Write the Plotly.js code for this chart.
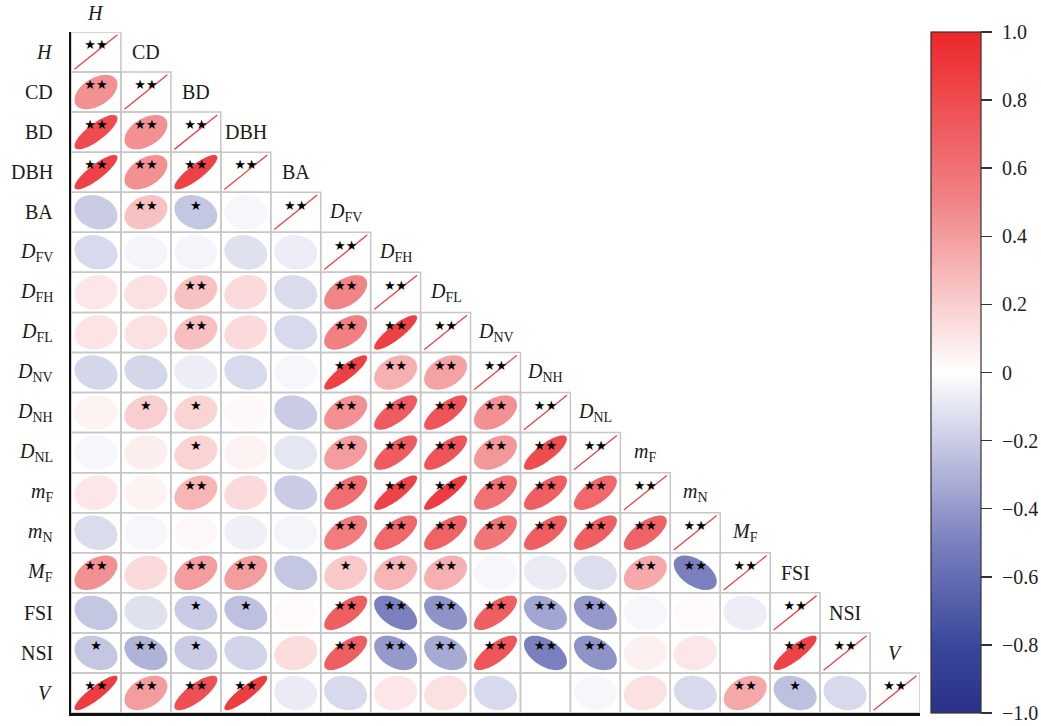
<!DOCTYPE html>
<html>
<head>
<meta charset="utf-8">
<script src="https://cdn.plot.ly/plotly-3.0.1.min.js"></script>
<style>html,body{margin:0;padding:0;background:#fff;}#chart{width:1041px;height:726px;}</style>
</head>
<body>
<div id="chart"></div>
<script>
// ---- data ----
const vars = ['H','CD','BD','DBH','BA','DFV','DFH','DFL','DNV','DNH','DNL','mF','mN','MF','FSI','NSI','V'];
const varLabels = ['<i>H</i>','CD','BD','DBH','BA','<i>D</i><sub>FV</sub>','<i>D</i><sub>FH</sub>','<i>D</i><sub>FL</sub>',
  '<i>D</i><sub>NV</sub>','<i>D</i><sub>NH</sub>','<i>D</i><sub>NL</sub>','<i>m</i><sub>F</sub>','<i>m</i><sub>N</sub>',
  '<i>M</i><sub>F</sub>','FSI','NSI','<i>V</i>'];

// lower-triangle correlations (row variable vs. earlier column variables)
const r_H   = [];
const r_CD  = [0.45];
const r_BD  = [0.80, 0.45];
const r_DBH = [0.85, 0.45, 0.85];
const r_BA  = [-0.20, 0.25, -0.22, -0.03];
const r_DFV = [-0.15, -0.04, -0.04, -0.12, -0.07];
const r_DFH = [0.10, 0.12, 0.25, 0.15, -0.14, 0.50];
const r_DFL = [0.11, 0.12, 0.26, 0.15, -0.15, 0.52, 0.86];
const r_DNV = [-0.16, -0.16, -0.07, -0.15, -0.03, 0.86, 0.32, 0.38];
const r_DNH = [0.05, 0.20, 0.18, 0.03, -0.20, 0.45, 0.72, 0.75, 0.45];
const r_DNL = [-0.03, 0.07, 0.18, 0.05, -0.10, 0.40, 0.72, 0.75, 0.42, 0.80];
const r_mF  = [0.10, 0.05, 0.30, 0.15, -0.20, 0.62, 0.85, 0.88, 0.60, 0.70, 0.65];
const r_mN  = [-0.14, -0.03, 0.03, -0.06, -0.04, 0.55, 0.65, 0.68, 0.58, 0.70, 0.70, 0.68];
const r_MF  = [0.45, 0.15, 0.40, 0.40, -0.22, 0.22, 0.30, 0.32, -0.03, -0.08, -0.13, 0.35, -0.50];
const r_FSI = [-0.22, -0.12, -0.20, -0.25, 0.02, 0.70, -0.50, -0.42, 0.70, -0.35, -0.40, -0.03, 0.02, -0.07];
const r_NSI = [-0.22, -0.30, -0.20, -0.17, 0.14, 0.70, -0.40, -0.33, 0.75, -0.50, -0.42, 0.06, 0.10, 0.0, 0.85];
const r_V   = [0.88, 0.40, 0.78, 0.88, -0.08, -0.15, 0.10, 0.12, -0.15, 0.0, -0.03, 0.12, -0.15, 0.35, -0.25, -0.15];

// significance marks
const s_H   = [];
const s_CD  = ['**'];
const s_BD  = ['**','**'];
const s_DBH = ['**','**','**'];
const s_BA  = ['','**','*',''];
const s_DFV = ['','','','',''];
const s_DFH = ['','','**','','','**'];
const s_DFL = ['','','**','','','**','**'];
const s_DNV = ['','','','','','**','**','**'];
const s_DNH = ['','*','*','','','**','**','**','**'];
const s_DNL = ['','','*','','','**','**','**','**','**'];
const s_mF  = ['','','**','','','**','**','**','**','**','**'];
const s_mN  = ['','','','','','**','**','**','**','**','**','**'];
const s_MF  = ['**','','**','**','','*','**','**','','','','**','**'];
const s_FSI = ['','','*','*','','**','**','**','**','**','**','','',''];
const s_NSI = ['*','**','*','','','**','**','**','**','**','**','','','','**'];
const s_V   = ['**','**','**','**','','','','','','','','','','**','*',''];
const s_diag = '**';

const cbTickVals = [-1,-0.8,-0.6,-0.4,-0.2,0,0.2,0.4,0.6,0.8,1];
const cbTickText = ['\u22121.0','\u22120.8','\u22120.6','\u22120.4','\u22120.2','0','0.2','0.4','0.6','0.8','1.0'];

const rRows = [r_H,r_CD,r_BD,r_DBH,r_BA,r_DFV,r_DFH,r_DFL,r_DNV,r_DNH,r_DNL,r_mF,r_mN,r_MF,r_FSI,r_NSI,r_V];
const sRows = [s_H,s_CD,s_BD,s_DBH,s_BA,s_DFV,s_DFH,s_DFL,s_DNV,s_DNH,s_DNL,s_mF,s_mN,s_MF,s_FSI,s_NSI,s_V];

// ---- colour scale ----
const stops = [[-1,'#2A3186'],[-0.8,'#3A479C'],[-0.5,'#7A80BE'],[0,'#FFFFFF'],[0.5,'#F18486'],[1,'#EC262A']];
function hex2rgb(h){return [parseInt(h.substr(1,2),16),parseInt(h.substr(3,2),16),parseInt(h.substr(5,2),16)];}
function colorOf(v){
  for(let k=0;k<stops.length-1;k++){
    const [a,ca]=stops[k],[b,cb]=stops[k+1];
    if(v>=a && v<=b){
      const t=(v-a)/(b-a), A=hex2rgb(ca), B=hex2rgb(cb);
      return 'rgb('+A.map((x,i)=>Math.round(x+(B[i]-x)*t)).join(',')+')';
    }
  }
  return stops[stops.length-1][1];
}
const plotlyScale = stops.map(s=>[(s[0]+1)/2, s[1]]);

// ---- build shapes ----
const n = vars.length;
const HALF = 0.43;
const shapes = [];
for(let i=0;i<n;i++){
  for(let j=0;j<=i;j++){
    shapes.push({type:'rect',xref:'x',yref:'y',x0:j-0.5,x1:j+0.5,y0:i-0.5,y1:i+0.5,
      line:{color:'#C6C6C6',width:1.5},fillcolor:'rgba(0,0,0,0)',layer:'below'});
  }
}
function ellPath(cx,cy,r){
  const a=Math.acos(Math.max(-1,Math.min(1,r)));
  let p='';
  for(let k=0;k<=80;k++){
    const t=2*Math.PI*k/80;
    const x=cx+HALF*Math.cos(t+a/2);
    const y=cy-HALF*Math.cos(t-a/2);
    p+=(k?'L':'M')+x.toFixed(4)+','+y.toFixed(4);
  }
  return p+'Z';
}
const starX=[], starY=[], starT=[];
for(let i=0;i<n;i++){
  const rr=rRows[i], ss=sRows[i];
  for(let j=0;j<rr.length;j++){
    shapes.push({type:'path',xref:'x',yref:'y',path:ellPath(j,i,rr[j]),
      fillcolor:colorOf(rr[j]),line:{width:0},layer:'below'});
    if(ss[j]){starX.push(j);starY.push(i-0.15);starT.push(ss[j].replace(/\*/g,'\u2605'));}
  }
  // diagonal r = 1
  shapes.push({type:'line',xref:'x',yref:'y',x0:i-HALF,y0:i+HALF,x1:i+HALF,y1:i-HALF,
    line:{color:'#EE4040',width:1.3},layer:'below'});
  starX.push(i);starY.push(i-0.15);starT.push(s_diag.replace(/\*/g,'\u2605'));
}

// ---- annotations (labels) ----
const annotations=[];
const SERIF='Liberation Serif';
const labFont={family:SERIF,size:20,color:'#1a1a1a'};
for(let i=0;i<n;i++){
  annotations.push({xref:'paper',yref:'y',x:0,y:i,xshift:-16,xanchor:'right',yanchor:'middle',
    text:varLabels[i],showarrow:false,font:labFont});
  if(i===0){
    annotations.push({xref:'x',yref:'paper',x:0,y:1,yshift:19,xanchor:'center',yanchor:'middle',
      text:varLabels[i],showarrow:false,font:labFont});
  } else {
    annotations.push({xref:'x',yref:'y',x:i,y:i-1,xanchor:'center',yanchor:'middle',
      text:varLabels[i],showarrow:false,font:labFont});
  }
}
// colour-bar tick labels
for(let k=0;k<cbTickVals.length;k++){
  annotations.push({xref:'paper',yref:'paper',x:1,y:(cbTickVals[k]+1)/2,xshift:80,
    xanchor:'left',yanchor:'middle',text:cbTickText[k],showarrow:false,
    font:{family:SERIF,size:20,color:'#222'}});
}

const traces=[
  {type:'scatter',mode:'text',x:starX,y:starY,text:starT,hoverinfo:'skip',
   textfont:{family:'DejaVu Sans',size:13,color:'#000'},showlegend:false,cliponaxis:false},
  {type:'scatter',mode:'markers',x:[100],y:[100],hoverinfo:'skip',showlegend:false,
   marker:{color:[0],cmin:-1,cmax:1,colorscale:plotlyScale,showscale:true,
     colorbar:{x:1.013,xanchor:'left',xpad:0,ypad:0,y:0.5,yanchor:'middle',
       thickness:50,thicknessmode:'pixels',len:681,lenmode:'pixels',
       outlinewidth:1.2,outlinecolor:'#333',ticks:'outside',ticklen:11,tickcolor:'#333',tickwidth:1.5,
       tickmode:'array',tickvals:cbTickVals,ticktext:cbTickText,showticklabels:false}}}
];

const layout={
  width:1041,height:726,
  font:{family:SERIF,size:18,color:'#222'},
  margin:{l:71,r:121,t:32,b:13},
  paper_bgcolor:'#fff',plot_bgcolor:'#fff',
  xaxis:{range:[-0.5,16.5],showgrid:false,zeroline:false,showticklabels:false,ticks:'',
    showline:true,linecolor:'#111',linewidth:2.5,fixedrange:true},
  yaxis:{range:[16.5,-0.5],showgrid:false,zeroline:false,showticklabels:false,ticks:'',
    showline:true,linecolor:'#111',linewidth:2.5,fixedrange:true},
  shapes:shapes,annotations:annotations,showlegend:false
};
Plotly.newPlot('chart',traces,layout,{displayModeBar:false,staticPlot:true});
</script>
</body>
</html>
